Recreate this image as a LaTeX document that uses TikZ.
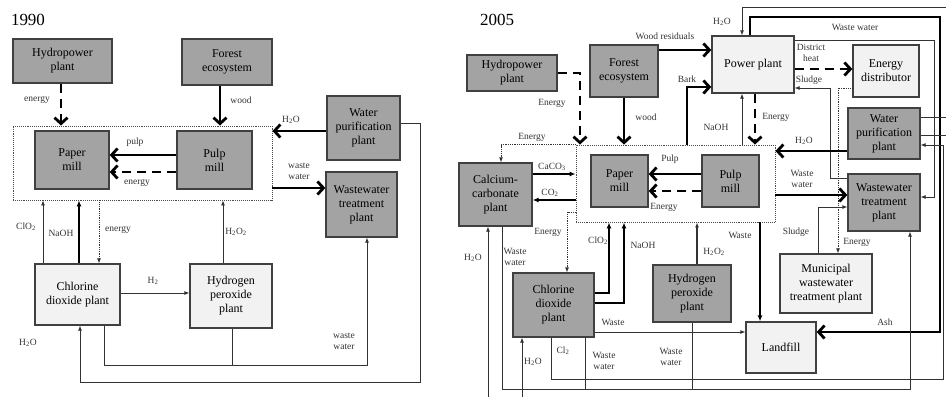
\documentclass[tikz,border=0pt]{standalone}
\usepackage{fontspec}
\setmainfont{Liberation Serif}
\usetikzlibrary{arrows.meta}
\tikzset{
  dkbox/.style={draw=black!75,line width=1.3,fill=black!36,align=center,inner sep=1pt,font=\fontsize{12}{14}\selectfont},
  ltbox/.style={dkbox,fill=black!5},
  mills/.style={draw=black!70,line width=0.9,densely dotted,inner sep=0},
  big/.style={line width=2.8,-{Straight Barb[length=6,width=13]}},
  midflow/.style={line width=1.8,-{Latex[length=6,width=5]}},
  thinflow/.style={line width=0.8,black!80,-{Latex[length=5,width=4]}},
  nohead/.style={line width=0.8,black!80},
  dsh/.style={dash pattern=on 9 off 6},
  lab/.style={font=\fontsize{9.5}{11}\selectfont,text=black!80,inner sep=0,align=center},
  yr/.style={font=\fontsize{17}{17}\selectfont,inner sep=0}
}
\newcommand{\sub}[1]{\textsubscript{#1}}
\begin{document}
\begin{tikzpicture}[x=1pt,y=-1pt]
\useasboundingbox (0,0) rectangle (946,397);
% 1990
\node[yr] (y90) at (28,20) {1990};
\node[dkbox,minimum width=99,minimum height=44] (hydroA) at (62.5,61) {Hydropower\\plant};
\node[dkbox,minimum width=90,minimum height=46] (forestA) at (227,62) {Forest\\ecosystem};
\node[mills,minimum width=259,minimum height=74] (millsA) at (142.5,163) {};
\node[dkbox,minimum width=74,minimum height=58] (paperA) at (72,160) {Paper\\mill};
\node[dkbox,minimum width=75,minimum height=58] (pulpA) at (214.5,160) {Pulp\\mill};
\node[dkbox,minimum width=73,minimum height=64] (waterA) at (363.5,128) {Water\\purification\\plant};
\node[dkbox,minimum width=71,minimum height=65] (wwtpA) at (361.5,204.5) {Wastewater\\treatment\\plant};
\node[ltbox,minimum width=85,minimum height=61] (clA) at (77.5,294.5) {Chlorine\\dioxide plant};
\node[ltbox,minimum width=82,minimum height=64] (hpA) at (231,296) {Hydrogen\\peroxide\\plant};

\draw[big,dsh] (61,0 |- hydroA.south) -- (61,0 |- millsA.north);
\draw[big] (220,0 |- forestA.south) -- (220,0 |- millsA.north);
\draw[big] (pulpA.west |- 0,155) -- (paperA.east |- 0,155);
\draw[big,dsh] (pulpA.west |- 0,172) -- (paperA.east |- 0,172);
\draw[big] (waterA.west |- 0,131) -- (millsA.east |- 0,131);
\draw[big] (millsA.east |- 0,188) -- (wwtpA.west |- 0,188);
\draw[thinflow] (waterA.east |- 0,123) -| (420,382) -| (80,0 |- clA.south);
\draw[thinflow] (43,0 |- clA.north) -- (43,0 |- millsA.south);
\draw[midflow] (79,0 |- clA.north) -- (79,0 |- millsA.south);
\draw[thinflow,densely dotted] (99,0 |- millsA.south) -- (99,0 |- clA.north);
\draw[thinflow] (clA.east |- 0,293) -- (hpA.west |- 0,293);
\draw[thinflow] (223,0 |- hpA.north) -- (223,0 |- millsA.south);
\draw[thinflow] (104,0 |- clA.south) |- (367,365) -- (367,0 |- wwtpA.south);
\draw[nohead] (232,0 |- hpA.south) -- (232,365);

\node[lab] (a1) at (37,100) {energy};
\node[lab] (a2) at (241,100) {wood};
\node[lab] (a3) at (135,142) {pulp};
\node[lab] (a4) at (137,183) {energy};
\node[lab] (a5) at (291,120) {H\sub{2}O};
\node[lab] (a6) at (299,171) {waste\\water};
\node[lab] (a7) at (28,343) {H\sub{2}O};
\node[lab] (a8) at (26,227) {ClO\sub{2}};
\node[lab] (a9) at (61,233) {NaOH};
\node[lab] (a10) at (118,230) {energy};
\node[lab] (a11) at (153,281) {H\sub{2}};
\node[lab] (a12) at (236,232) {H\sub{2}O\sub{2}};
\node[lab] (a13) at (344,341) {waste\\water};

% 2005
\node[yr] (y05) at (497,20) {2005};
\node[dkbox,minimum width=90,minimum height=36] (hydroB) at (512,73) {Hydropower\\plant};
\node[dkbox,minimum width=68,minimum height=52] (forestB) at (624,71) {Forest\\ecosystem};
\node[ltbox,minimum width=82,minimum height=57] (powerB) at (753,64.5) {Power plant};
\node[ltbox,minimum width=66,minimum height=52] (edB) at (886,71) {Energy\\distributor};
\node[dkbox,minimum width=72,minimum height=51] (waterB) at (884,133.5) {Water\\purification\\plant};
\node[mills,minimum width=199,minimum height=77] (millsB) at (675.5,183.5) {};
\node[dkbox,minimum width=57,minimum height=52] (paperB) at (619.5,181) {Paper\\mill};
\node[dkbox,minimum width=57,minimum height=52] (pulpB) at (730.5,181) {Pulp\\mill};
\node[dkbox,minimum width=73,minimum height=63] (caB) at (495.5,194.5) {Calcium-\\carbonate\\plant};
\node[dkbox,minimum width=72,minimum height=57] (wwtpB) at (884,202.5) {Wastewater\\treatment\\plant};
\node[dkbox,minimum width=81,minimum height=64] (clB) at (553.5,305) {Chlorine\\dioxide\\plant};
\node[dkbox,minimum width=78,minimum height=57] (hpB) at (692,293.5) {Hydrogen\\peroxide\\plant};
\node[ltbox,minimum width=92,minimum height=59] (mwtpB) at (826,283.5) {Municipal\\wastewater\\treatment plant};
\node[ltbox,minimum width=70,minimum height=51] (landB) at (781,347.5) {Landfill};

\draw[big,dsh] (hydroB.east) -| (580,0 |- millsB.north);
\draw[thinflow,densely dotted] (millsB.north west) -| (501,0 |- caB.north);
\draw[big] (forestB.south) -- (forestB.south |- millsB.north);
\draw[big] (forestB.east |- 0,50) -- (powerB.west |- 0,50);
\draw[big] (687,0 |- millsB.north) |- (powerB.west |- 0,87);
\draw[thinflow] (742,0 |- millsB.north) -- (742,0 |- powerB.south);
\draw[big,dsh] (755,0 |- powerB.south) -- (755,0 |- millsB.north);
\draw[thinflow] (946,7) -| (742,0 |- powerB.north);
\draw[big] (750,0 |- powerB.north) |- (940,17) |- (landB.east |- 0,332);
\draw[thinflow] (powerB.east |- 0,40) -| (934,197) -- (wwtpB.east |- 0,197);
\draw[big,dsh] (powerB.east |- 0,69) -- (edB.west |- 0,69);
\draw[thinflow] (wwtpB.west |- 0,178) -| (830,88) -- (powerB.east |- 0,88);
\draw[thinflow,densely dotted] (edB.west |- 0,88) -| (838,0 |- mwtpB.north);
\draw[big] (waterB.west |- 0,151) -- (millsB.east |- 0,151);
\draw[big] (millsB.east |- 0,195) -- (wwtpB.west |- 0,195);
\draw[thinflow] (818,0 |- mwtpB.north) |- (wwtpB.west |- 0,207);
\draw[nohead] (waterB.east |- 0,117) -- (946,117);
\draw[nohead] (waterB.east |- 0,135) -- (946,135);
\draw[thinflow] (551,0 |- clB.south) |- (943,379) |- (waterB.east |- 0,145);
\draw[thinflow] (502,0 |- caB.south) |- (910,389) -- (910,0 |- wwtpB.south);
\draw[nohead] (585,0 |- clB.south) -- (585,389);
\draw[nohead] (692,0 |- hpB.south) -- (692,389);
\draw[thinflow] (488,397) -- (488,0 |- caB.south);
\draw[thinflow] (522,397) -- (522,0 |- clB.south);
\draw[midflow] (caB.east |- 0,174) -- (millsB.west |- 0,174);
\draw[midflow] (millsB.west |- 0,200) -- (caB.east |- 0,200);
\draw[thinflow,densely dotted] (millsB.west |- 0,212) -| (567,0 |- clB.north);
\draw[midflow] (clB.east |- 0,293) -| (609,0 |- millsB.south);
\draw[midflow,line width=2.3] (clB.east |- 0,303) -| (624,0 |- millsB.south);
\draw[thinflow,line width=1.2] (697,0 |- hpB.north) -- (697,0 |- millsB.south);
\draw[midflow] (760,0 |- millsB.south) -- (760,0 |- landB.north);
\draw[thinflow] (clB.east |- 0,332) -- (landB.west |- 0,332);
\draw[big] (pulpB.west |- 0,174) -- (paperB.east |- 0,174);
\draw[big,dsh] (pulpB.west |- 0,191) -- (paperB.east |- 0,191);

\node[lab] (b1) at (552,103) {Energy};
\node[lab] (b2) at (532,137) {Energy};
\node[lab] (b3) at (646,117) {wood};
\node[lab] (b4) at (665,36) {Wood residuals};
\node[lab] (b5) at (687,79) {Bark};
\node[lab] (b6) at (716,127) {NaOH};
\node[lab] (b7) at (776,117) {Energy};
\node[lab] (b8) at (722,22) {H\sub{2}O};
\node[lab] (b9) at (885,322) {Ash};
\node[lab] (b10) at (855,27) {Waste water};
\node[lab] (b11) at (811,53) {District\\heat};
\node[lab] (b12) at (809,80) {Sludge};
\node[lab] (b13) at (857,242) {Energy};
\node[lab] (b14) at (804,141) {H\sub{2}O};
\node[lab] (b15) at (802,179) {Waste\\water};
\node[lab] (b16) at (796,232) {Sludge};
\node[lab] (b17) at (563,351) {Cl\sub{2}};
\node[lab] (b18) at (515,257) {Waste\\water};
\node[lab] (b19) at (604,361) {Waste\\water};
\node[lab] (b20) at (671,357) {Waste\\water};
\node[lab] (b21) at (473,258) {H\sub{2}O};
\node[lab] (b22) at (533,362) {H\sub{2}O};
\node[lab] (b23) at (552,167) {CaCO\sub{3}};
\node[lab] (b24) at (550,193) {CO\sub{2}};
\node[lab] (b25) at (548,232) {Energy};
\node[lab] (b26) at (598,241) {ClO\sub{2}};
\node[lab] (b27) at (643,245) {NaOH};
\node[lab] (b28) at (714,252) {H\sub{2}O\sub{2}};
\node[lab] (b29) at (740,235) {Waste};
\node[lab] (b30) at (613,322) {Waste};
\node[lab] (b31) at (670,159) {Pulp};
\node[lab] (b32) at (664,207) {Energy};
\end{tikzpicture}
\end{document}
